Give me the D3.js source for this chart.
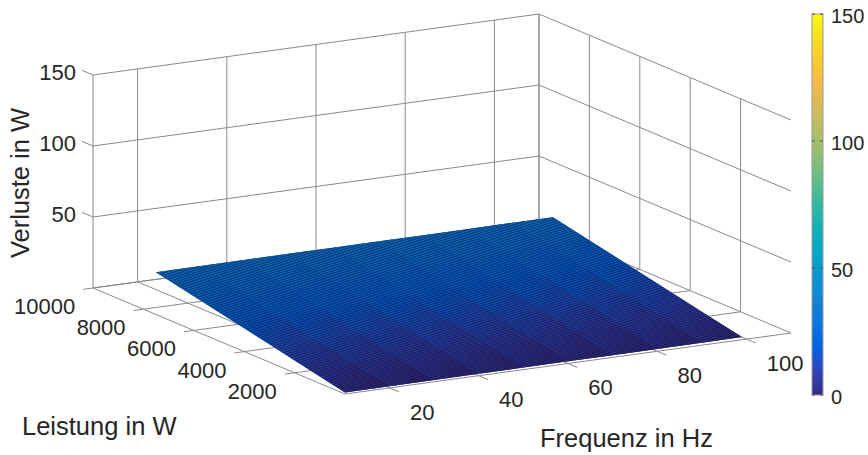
<!DOCTYPE html>
<html>
<head>
<meta charset="utf-8">
<script src="https://cdn.jsdelivr.net/npm/d3@7"></script>
<style>
body { margin: 0; background: #fff; }
text { font-family: "Liberation Sans", Arial, Helvetica, sans-serif; fill: #262626; }
</style>
</head>
<body>
<div id="chart"></div>
<script>
// surface data: rows follow powerW, columns follow freqHz
var freqHz = [10, 20, 30, 40, 50, 60, 70, 80, 90, 99];
var powerW = [0, 1500, 3000, 4500, 6000, 7500];
var lossW = [
  [1.0, 1.1, 1.2, 1.3, 1.4, 1.5, 1.6, 1.7, 1.8, 1.9],
  [6.8, 6.9, 7.0, 7.0, 7.1, 7.2, 7.3, 7.4, 7.5, 7.5],
  [12.6, 12.7, 12.7, 12.8, 12.9, 13.0, 13.0, 13.1, 13.2, 13.2],
  [18.3, 18.4, 18.5, 18.5, 18.6, 18.7, 18.7, 18.8, 18.9, 18.9],
  [24.1, 24.1, 24.2, 24.3, 24.3, 24.4, 24.5, 24.5, 24.6, 24.6],
  [29.8, 29.8, 29.9, 30.0, 30.0, 30.1, 30.1, 30.2, 30.3, 30.3]
];
var freqTicks = [20, 40, 60, 80, 100];
var powerTicks = [2000, 4000, 6000, 8000, 10000];
var lossTicks = [50, 100, 150];
var colorbarTicks = [0, 50, 100, 150];

// parula colormap, sampled
var parula = ['#352a87', '#3243ba', '#0363e1', '#0d75dc', '#1485d4', '#0998d1', '#06a7c6', '#15b1b4',
  '#38b99e', '#65be86', '#92bf73', '#b7bd64', '#d9ba56', '#f8bb44', '#fcce2e', '#f5e41d', '#f9fb0e'];
var parulaPos = [0, 4, 8, 12, 16, 20, 24, 28, 32, 36, 40, 44, 48, 52, 56, 60, 63];

var width = 868, height = 455;
var gridColor = '#8a8a8a';

var svg = d3.select('#chart').append('svg')
    .attr('width', width)
    .attr('height', height);

var color = d3.scaleLinear()
    .domain(parulaPos.map(function (d) { return d / 63 * 150; }))
    .range(parula)
    .clamp(true);

// fraction along each edge of the 3d box
var fx = d3.scaleLinear().domain([10, 110]).range([0, 1]);
var fy = d3.scaleLinear().domain([0, 10000]).range([0, 1]);
var fz = d3.scaleLinear().domain([0, 150]).range([0, 213]);

var origin = [345, 394];   // f=10, P=0, z=0
var xVec = [446, -61];
var yVec = [-252, -106];

function proj(f, p, z) {
    var a = fx(f), b = fy(p);
    return [origin[0] + a * xVec[0] + b * yVec[0],
            origin[1] + a * xVec[1] + b * yVec[1] - fz(z)];
}

function seg(g, p1, p2, stroke) {
    g.append('line')
        .attr('x1', p1[0]).attr('y1', p1[1])
        .attr('x2', p2[0]).attr('y2', p2[1])
        .attr('stroke', stroke || gridColor)
        .attr('stroke-width', 1);
}

function shade(z) {
    return d3.rgb(color(z)).darker(0.45);
}

var f0 = fx.domain()[0], f1 = fx.domain()[1];
var p0 = fy.domain()[0], p1 = fy.domain()[1];
var zTop = fz.domain()[1];

// back planes + floor grid
var grid = svg.append('g');
// back wall (P = max)
seg(grid, proj(f0, p1, 0), proj(f0, p1, zTop));
seg(grid, proj(f1, p1, 0), proj(f1, p1, zTop));
seg(grid, proj(f0, p1, 0), proj(f1, p1, 0));
freqTicks.forEach(function (f) { seg(grid, proj(f, p1, 0), proj(f, p1, zTop)); });
lossTicks.forEach(function (z) { seg(grid, proj(f0, p1, z), proj(f1, p1, z)); });
// right wall (f = max)
seg(grid, proj(f1, p0, 0), proj(f1, p1, 0));
powerTicks.forEach(function (p) { seg(grid, proj(f1, p, 0), proj(f1, p, zTop)); });
lossTicks.forEach(function (z) { seg(grid, proj(f1, p0, z), proj(f1, p1, z)); });
// floor
freqTicks.forEach(function (f) { seg(grid, proj(f, p0, 0), proj(f, p1, 0)); });
powerTicks.forEach(function (p) { seg(grid, proj(f0, p, 0), proj(f1, p, 0)); });

// surface
var defs = svg.append('defs');
var mesh = defs.append('pattern')
    .attr('id', 'mesh')
    .attr('patternUnits', 'userSpaceOnUse')
    .attr('width', 6)
    .attr('height', 2.4)
    .attr('patternTransform', 'rotate(-18)');
mesh.append('rect')
    .attr('width', 6)
    .attr('height', 1)
    .attr('fill', '#000')
    .attr('opacity', 0.45);

var nr = powerW.length - 1, nc = freqHz.length - 1;
var outline = [];
for (var j = 0; j <= nc; j++) outline.push(proj(freqHz[j], powerW[0], lossW[0][j]));
for (var i = 1; i <= nr; i++) outline.push(proj(freqHz[nc], powerW[i], lossW[i][nc]));
for (var j = nc - 1; j >= 0; j--) outline.push(proj(freqHz[j], powerW[nr], lossW[nr][j]));
for (var i = nr - 1; i > 0; i--) outline.push(proj(freqHz[0], powerW[i], lossW[i][0]));

var surf = svg.append('g');
var line = d3.line();

// underlay so that cell seams do not show white
var mid = Math.floor(nc / 2);
var frontMid = proj(freqHz[mid], powerW[0], lossW[0][mid]);
var backMid = proj(freqHz[mid], powerW[nr], lossW[nr][mid]);
var under = defs.append('linearGradient')
    .attr('id', 'under')
    .attr('gradientUnits', 'userSpaceOnUse')
    .attr('x1', frontMid[0]).attr('y1', frontMid[1])
    .attr('x2', backMid[0]).attr('y2', backMid[1]);
powerW.forEach(function (p, i) {
    under.append('stop').attr('offset', i / nr).attr('stop-color', shade(lossW[i][mid]));
});
surf.append('path')
    .attr('d', line(outline) + 'Z')
    .attr('fill', 'url(#under)');

for (var i = 0; i < nr; i++) {
    for (var j = 0; j < nc; j++) {
        var a = proj(freqHz[j], powerW[i], lossW[i][j]);
        var b = proj(freqHz[j + 1], powerW[i], lossW[i][j + 1]);
        var c = proj(freqHz[j + 1], powerW[i + 1], lossW[i + 1][j + 1]);
        var d = proj(freqHz[j], powerW[i + 1], lossW[i + 1][j]);
        var zFront = (lossW[i][j] + lossW[i][j + 1]) / 2;
        var zBack = (lossW[i + 1][j] + lossW[i + 1][j + 1]) / 2;
        var id = 'cell' + i + '_' + j;
        var grad = defs.append('linearGradient')
            .attr('id', id)
            .attr('gradientUnits', 'userSpaceOnUse')
            .attr('x1', (a[0] + b[0]) / 2).attr('y1', (a[1] + b[1]) / 2)
            .attr('x2', (c[0] + d[0]) / 2).attr('y2', (c[1] + d[1]) / 2);
        grad.append('stop').attr('offset', 0).attr('stop-color', shade(zFront));
        grad.append('stop').attr('offset', 1).attr('stop-color', shade(zBack));
        surf.append('path')
            .attr('d', line([a, b, c, d]) + 'Z')
            .attr('fill', 'url(#' + id + ')');
    }
}
// mesh texture over the whole surface
surf.append('path')
    .attr('d', line(outline) + 'Z')
    .attr('fill', 'url(#mesh)');

// axis lines, ticks, labels
var axes = svg.append('g');
seg(axes, proj(f0, p0, 0), proj(f1, p0, 0));
seg(axes, proj(f0, p0, 0), proj(f0, p1, 0));

freqTicks.forEach(function (f) {
    var end = proj(f, p0 - 370, 0);
    seg(axes, proj(f, p0, 0), end);
    axes.append('text')
        .attr('x', end[0] + 11)
        .attr('y', end[1] + 20)
        .attr('dy', '0.35em')
        .attr('font-size', 22)
        .text(f);
});
powerTicks.forEach(function (p) {
    var end = proj(f0 - 2.2, p, 0);
    seg(axes, proj(f0, p, 0), end);
    axes.append('text')
        .attr('x', end[0] - 8)
        .attr('y', end[1] + 17)
        .attr('dy', '0.35em')
        .attr('text-anchor', 'end')
        .attr('font-size', 22)
        .text(p);
});
lossTicks.forEach(function (z) {
    var end = proj(f0, p1 + 440, z);
    seg(axes, proj(f0, p1, z), end);
    axes.append('text')
        .attr('x', end[0] - 6)
        .attr('y', end[1] + 1.5)
        .attr('dy', '0.35em')
        .attr('text-anchor', 'end')
        .attr('font-size', 22)
        .text(z);
});

svg.append('text')
    .attr('transform', 'translate(29,183) rotate(-90)')
    .attr('text-anchor', 'middle')
    .attr('font-size', 25.5)
    .text('Verluste in W');
svg.append('text')
    .attr('x', 22)
    .attr('y', 435)
    .attr('font-size', 25.5)
    .text('Leistung in W');
svg.append('text')
    .attr('x', 540)
    .attr('y', 447)
    .attr('font-size', 25.5)
    .text('Frequenz in Hz');

// colorbar
var cb = d3.scaleLinear().domain([0, 150]).range([395, 14]);
var cbGrad = defs.append('linearGradient')
    .attr('id', 'cbgrad')
    .attr('x1', 0).attr('y1', 1)
    .attr('x2', 0).attr('y2', 0);
parula.forEach(function (c, k) {
    cbGrad.append('stop').attr('offset', parulaPos[k] / 63).attr('stop-color', c);
});
var cbX = 812, cbW = 11;
svg.append('rect')
    .attr('x', cbX)
    .attr('y', cb(150))
    .attr('width', cbW)
    .attr('height', cb(0) - cb(150))
    .attr('fill', 'url(#cbgrad)')
    .attr('stroke', '#9a9a9a')
    .attr('stroke-width', 1);
colorbarTicks.forEach(function (v) {
    svg.append('line')
        .attr('x1', cbX + cbW - 3).attr('x2', cbX + cbW)
        .attr('y1', cb(v)).attr('y2', cb(v))
        .attr('stroke', '#555');
    svg.append('line')
        .attr('x1', cbX).attr('x2', cbX + 3)
        .attr('y1', cb(v)).attr('y2', cb(v))
        .attr('stroke', '#555');
    svg.append('text')
        .attr('x', 831)
        .attr('y', cb(v) + 2)
        .attr('dy', '0.35em')
        .attr('font-size', 20)
        .text(v);
});
</script>
</body>
</html>
